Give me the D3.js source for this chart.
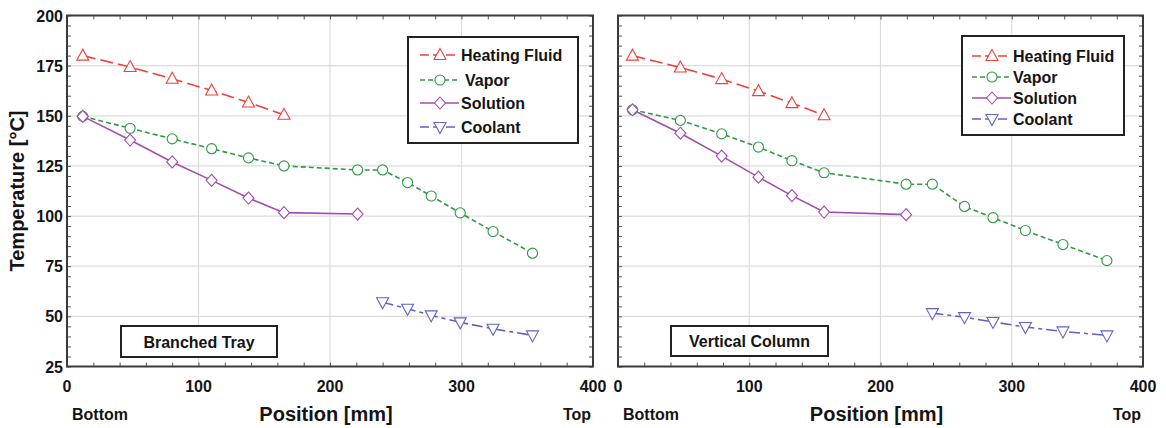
<!DOCTYPE html>
<html><head><meta charset="utf-8">
<script src="https://cdn.jsdelivr.net/npm/d3@7/dist/d3.min.js"></script>
<style>
html,body{margin:0;padding:0;background:#fff;}
text{font-family:"Liberation Sans",Arial,sans-serif;font-weight:bold;fill:#141414;}
</style></head><body>
<svg id="chart" width="1166" height="428"></svg>
<script>
// ---------- data ----------
const seriesNames = ["Heating Fluid", "Vapor", "Solution", "Coolant"];
const panelTitles = ["Branched Tray", "Vertical Column"];
const xTicks = [0, 100, 200, 300, 400];
const yTicks = [25, 50, 75, 100, 125, 150, 175, 200];

// Branched Tray
const btHeatX  = [12, 48, 80, 110, 138, 165];
const btHeatY  = [180, 174.3, 168.5, 162.6, 156.6, 150.5];
const btVapX   = [12, 48, 80, 110, 138, 165, 221, 240, 259, 277, 299, 324, 354];
const btVapY   = [149.7, 143.8, 138.5, 133.6, 129, 125, 123, 123, 116.7, 110, 101.6, 92.3, 81.5];
const btSolX   = [12, 48, 80, 110, 138, 165, 221];
const btSolY   = [149.7, 137.9, 127, 117.8, 109, 101.7, 101];
const btCoolX  = [240, 259, 277, 299, 324, 354];
const btCoolY  = [57, 53.8, 50.5, 47, 43.8, 40.5];

// Vertical Column
const vcHeatX  = [11, 47.5, 79, 107, 132.5, 157];
const vcHeatY  = [180, 174.1, 168.3, 162.3, 156.3, 150.3];
const vcVapX   = [11, 47.5, 79, 107, 132.5, 157, 219.5, 239.5, 264, 285.7, 310.4, 339, 372.5];
const vcVapY   = [153, 147.7, 141, 134.4, 127.6, 121.6, 115.9, 115.9, 104.8, 99.2, 92.8, 85.8, 77.8];
const vcSolX   = [11, 47.5, 79, 107, 132.5, 157, 219.5];
const vcSolY   = [153, 141.3, 129.9, 119.4, 110.2, 102, 100.7];
const vcCoolX  = [239.5, 264, 285.7, 310.4, 339, 372.5];
const vcCoolY  = [51.6, 49.6, 47.2, 44.7, 42.5, 40.5];

// ---------- styles ----------
const styles = [
  {color:"#f0413a", dash:"13,5", marker:"triangle"},
  {color:"#2f9a44", dash:"5,3", marker:"circle"},
  {color:"#a34bb0", dash:null, marker:"diamond"},
  {color:"#6262c4", dash:"11,4,4,4", marker:"triangleDown"}
];

const panels = [
  {x0:67, x1:593, title:panelTitles[0], showY:true,
   series:[[btHeatX,btHeatY],[btVapX,btVapY],[btSolX,btSolY],[btCoolX,btCoolY]],
   legend:{x:408,y:37,w:170,h:106,rowY:[55,80,103,127],lx:420,tx:461},
   box:{x:121,y:326,w:156,h:31}},
  {x0:618, x1:1143, title:panelTitles[1], showY:false,
   series:[[vcHeatX,vcHeatY],[vcVapX,vcVapY],[vcSolX,vcSolY],[vcCoolX,vcCoolY]],
   legend:{x:962,y:36,w:162,h:99,rowY:[56,77,98,119],lx:972,tx:1013},
   box:{x:671,y:326,w:157,h:30}}
];
const yTop = 15.5, yBot = 366.5;

const svg = d3.select("#chart");

function markerPath(type){
  if(type==="circle") return d3.symbol(d3.symbolCircle, 80)();
  if(type==="diamond") return "M0,-6L5.5,0L0,6L-5.5,0Z";
  if(type==="triangle") return "M0,-6.5L6,4.5L-6,4.5Z";
  if(type==="triangleDown") return "M0,6.5L6,-4.5L-6,-4.5Z";
}

panels.forEach(p=>{
  const x = d3.scaleLinear().domain([0,400]).range([p.x0,p.x1]);
  const y = d3.scaleLinear().domain([25,200]).range([yBot,yTop]);
  const g = svg.append("g");

  // gridlines
  g.append("g").selectAll("line.vx").data(xTicks.slice(1,-1)).join("line")
    .attr("x1",d=>x(d)).attr("x2",d=>x(d)).attr("y1",yTop).attr("y2",yBot)
    .attr("stroke","#dcdcdc").attr("stroke-width",1.2);
  g.append("g").selectAll("line.hy").data(yTicks.slice(1,-1)).join("line")
    .attr("x1",p.x0).attr("x2",p.x1).attr("y1",d=>y(d)).attr("y2",d=>y(d))
    .attr("stroke","#dcdcdc").attr("stroke-width",1.2);

  // axes with inward minor ticks
  const yMinor = d3.range(25,201,5);
  const xMinor = d3.range(0,401,20);
  const axL = d3.axisRight(y).tickValues(yMinor).tickSize(4).tickFormat("");
  const axR = d3.axisLeft(y).tickValues(yMinor).tickSize(4).tickFormat("");
  const axB = d3.axisTop(x).tickValues(xMinor).tickSize(4).tickFormat("");
  const axT = d3.axisBottom(x).tickValues(xMinor).tickSize(4).tickFormat("");
  [[axL,`translate(${p.x0},0)`],[axR,`translate(${p.x1},0)`],[axB,`translate(0,${yBot})`],[axT,`translate(0,${yTop})`]]
    .forEach(([ax,tr])=>{
      const a = g.append("g").attr("transform",tr).call(ax);
      a.select(".domain").remove();
      a.selectAll("line").attr("stroke","#555").attr("stroke-width",1);
    });

  // frame
  g.append("rect").attr("x",p.x0).attr("y",yTop).attr("width",p.x1-p.x0).attr("height",yBot-yTop)
    .attr("fill","none").attr("stroke","#3a3a3a").attr("stroke-width",2);

  // tick labels
  g.append("g").selectAll("text").data(xTicks).join("text")
    .attr("x",d=>x(d)).attr("y",392).attr("text-anchor","middle")
    .attr("font-size",16).text(d=>d);
  if(p.showY){
    g.append("g").selectAll("text").data(yTicks).join("text")
      .attr("x",p.x0-4).attr("y",d=>y(d)+6).attr("text-anchor","end")
      .attr("font-size",16).text(d=>d);
    g.append("text").attr("transform",`translate(24,${(yTop+yBot)/2}) rotate(-90)`)
      .attr("text-anchor","middle").attr("font-size",20).text("Temperature [°C]");
  }
  g.append("text").attr("x",(p.x0+p.x1)/2-4).attr("y",421).attr("text-anchor","middle")
    .attr("font-size",20).text("Position [mm]");
  g.append("text").attr("x",p.x0+5).attr("y",420).attr("font-size",16).text("Bottom");
  g.append("text").attr("x",p.x1-16).attr("y",420).attr("text-anchor","middle").attr("font-size",16).text("Top");

  // series
  p.series.forEach((s,i)=>{
    const st = styles[i];
    const pts = s[0].map((xv,k)=>[xv,s[1][k]]);
    g.append("path").datum(pts)
      .attr("d",d3.line().x(d=>x(d[0])).y(d=>y(d[1])))
      .attr("fill","none").attr("stroke",st.color).attr("stroke-width",1.6)
      .attr("stroke-dasharray",st.dash);
    g.append("g").selectAll("path").data(pts).join("path")
      .attr("transform",d=>`translate(${x(d[0])},${y(d[1])})`)
      .attr("d",markerPath(st.marker))
      .attr("fill","#fff").attr("stroke",st.color).attr("stroke-width",1.1);
  });

  // legend
  const L = p.legend;
  g.append("rect").attr("x",L.x).attr("y",L.y).attr("width",L.w).attr("height",L.h)
    .attr("fill","#fff").attr("stroke","#222").attr("stroke-width",2);
  seriesNames.forEach((nm,i)=>{
    const st = styles[i];
    const ry = L.rowY[i];
    g.append("line").attr("x1",L.lx).attr("x2",L.lx+39).attr("y1",ry).attr("y2",ry)
      .attr("stroke",st.color).attr("stroke-width",1.6)
      .attr("stroke-dasharray", st.dash ? (i===1?"5,3":"9,4") : null);
    g.append("path").attr("transform",`translate(${L.lx+20},${ry})`)
      .attr("d",markerPath(st.marker)).attr("fill","#fff").attr("stroke",st.color).attr("stroke-width",1.1);
    g.append("text").attr("x",L.tx + (p.showY && i===1 ? 4 : 0)).attr("y",ry+6).attr("font-size",16).text(nm);
  });

  // panel title box
  const B = p.box;
  g.append("rect").attr("x",B.x).attr("y",B.y).attr("width",B.w).attr("height",B.h)
    .attr("fill","#fff").attr("stroke","#222").attr("stroke-width",2);
  g.append("text").attr("x",B.x+B.w/2).attr("y",B.y+B.h/2+6).attr("text-anchor","middle")
    .attr("font-size",16).text(p.title);
});
</script>
</body></html>
